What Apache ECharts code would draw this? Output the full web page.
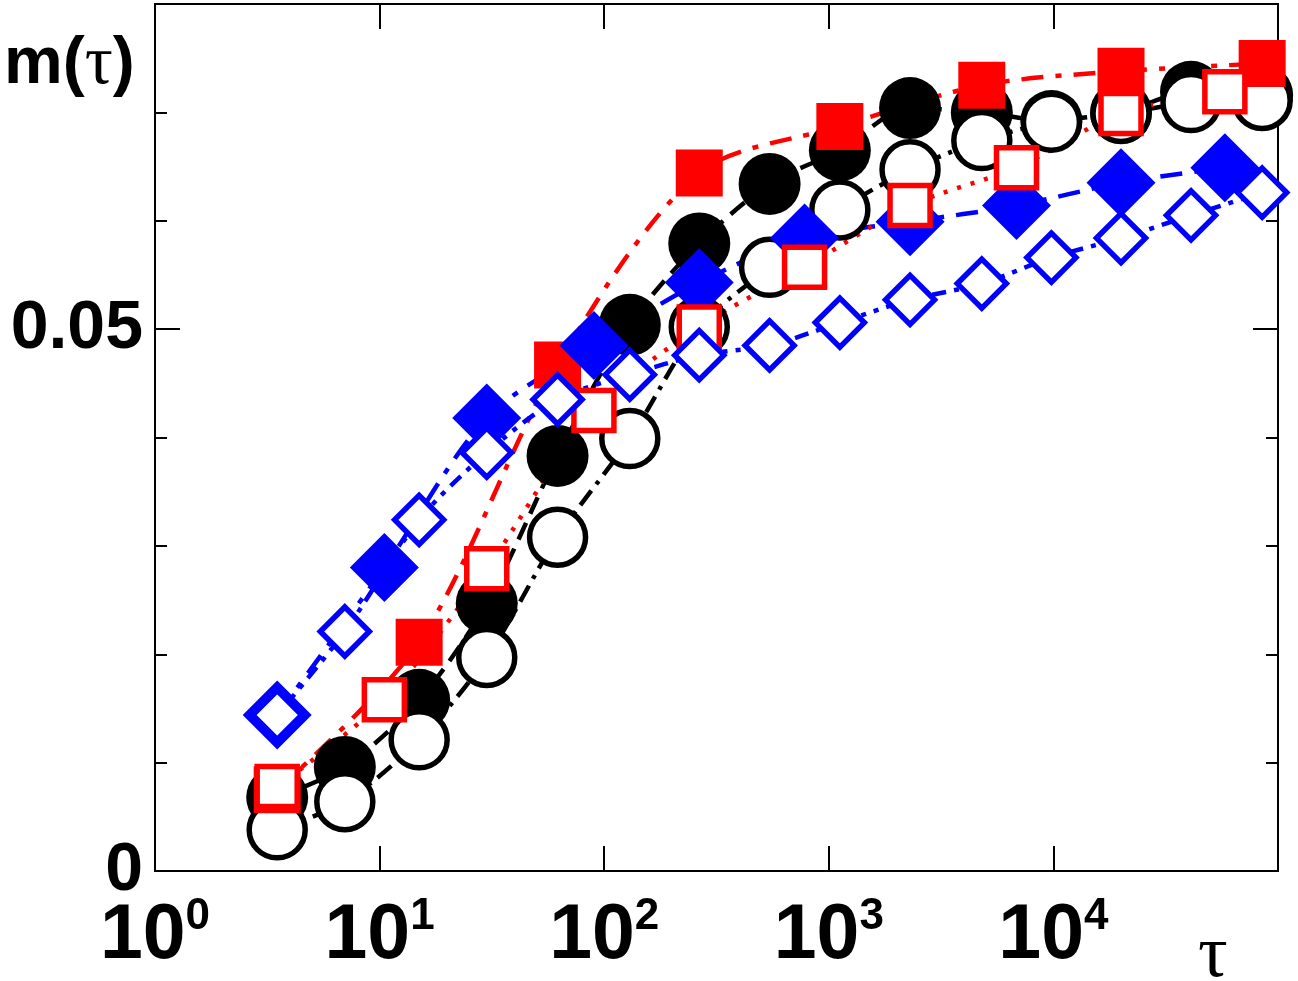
<!DOCTYPE html>
<html>
<head>
<meta charset="utf-8">
<script src="https://cdn.jsdelivr.net/npm/echarts@6/dist/echarts.min.js"></script>
<style>
  html, body { margin: 0; padding: 0; background: #fff; }
  #main { width: 1298px; height: 981px; }
</style>
</head>
<body>
<div id="main"></div>
<script>
// tau values
const tauA = [3.5, 7, 15, 30, 62, 130, 265, 545, 1120, 2300, 4800, 9800, 20000, 41000, 85000];
const tauB = [3.5, 10.5, 30, 90, 265, 780, 2300, 6850, 20000, 58000];
const tauC = [3.5, 15, 62, 265, 1120, 4800, 20000, 85000];

// m(tau) for each curve
const blackFilled = [0.0068, 0.0096, 0.0158, 0.0247, 0.0383, 0.0504, 0.0579, 0.0634, 0.0665, 0.0704, 0.0700, 0.0692, 0.0700, 0.0719, 0.0716];
const blackOpen   = [0.0038, 0.0064, 0.0121, 0.0197, 0.0308, 0.0399, 0.0502, 0.0557, 0.0610, 0.0647, 0.0674, 0.0691, 0.0699, 0.0709, 0.0711];
const redFilled   = [0.0075, 0.0211, 0.0467, 0.0644, 0.0687, 0.0725, 0.0738, 0.0745];
const redOpen     = [0.0078, 0.0158, 0.0279, 0.0425, 0.0502, 0.0557, 0.0614, 0.0649, 0.0699, 0.0719];
const blueFilled  = [0.0144, 0.0280, 0.0418, 0.0485, 0.0543, 0.0584, 0.0599, 0.0614, 0.0635, 0.0649];
const blueOpen    = [0.0144, 0.0221, 0.0324, 0.0386, 0.0435, 0.0458, 0.0476, 0.0485, 0.0506, 0.0527, 0.0542, 0.0566, 0.0584, 0.0605, 0.0626];

const yLabels = [0, 0.05];
const yMinor = [0.01, 0.02, 0.03, 0.04, 0.06, 0.07];

const FONT = 'Liberation Sans, Arial, Helvetica, sans-serif';
const SERIF = 'Liberation Serif, DejaVu Serif, serif';

function pairs(xs, ys) {
    return xs.map((x, i) => [x, ys[i]]);
}

function makeSeries(name, xs, ys, opt) {
    return {
        name: name,
        type: 'line',
        data: pairs(xs, ys),
        smooth: 0.3,
        clip: false,
        symbol: opt.symbol,
        symbolSize: opt.size,
        lineStyle: { color: opt.color, width: 4.5, type: opt.dash },
        itemStyle: opt.open
            ? { color: '#fff', borderColor: opt.color, borderWidth: 5.5 }
            : { color: opt.color, borderWidth: 0 },
        emphasis: { disabled: true }
    };
}

const chart = echarts.init(document.getElementById('main'));

// y axes: labels + major tick, minor ticks, and the same on the right side
function yAxisDef(pos, ticks, len, withLabels) {
    return {
        type: 'value',
        position: pos,
        min: 0,
        max: 0.08,
        axisLine: { show: false, onZero: false },
        splitLine: { show: false },
        axisTick: { show: true, inside: true, length: len, customValues: ticks, lineStyle: { color: '#000', width: 2 } },
        axisLabel: withLabels ? {
            show: true, customValues: yLabels, margin: 12,
            formatter: v => (v === 0 ? '0' : '0.05'),
            color: '#000', fontSize: 68, fontWeight: 'bold', fontFamily: FONT
        } : { show: false }
    };
}

function xAxisDef(pos, withLabels) {
    return {
        type: 'log',
        logBase: 10,
        position: pos,
        min: 1,
        max: 100000,
        axisLine: { show: false, onZero: false },
        splitLine: { show: false },
        minorTick: { show: false },
        axisTick: { show: true, inside: true, length: 25, lineStyle: { color: '#000', width: 2 } },
        axisLabel: withLabels ? {
            show: true, margin: 24, showMaxLabel: false,
            formatter: v => (v >= 100000 ? '' : '{b|10}{s|' + Math.round(Math.log10(v)) + '}'),
            rich: {
                b: { fontSize: 77, fontWeight: 'bold', fontFamily: FONT, color: '#000', lineHeight: 84 },
                s: { fontSize: 44, fontWeight: 'bold', fontFamily: FONT, color: '#000', lineHeight: 32, verticalAlign: 'top' }
            }
        } : { show: false }
    };
}

chart.setOption({
    animation: false,
    backgroundColor: '#fff',
    grid: { left: 155, top: 4, width: 1123, height: 867, show: true, borderColor: '#000', borderWidth: 2, backgroundColor: 'transparent' },
    xAxis: [xAxisDef('bottom', true), xAxisDef('top', false)],
    yAxis: [
        yAxisDef('left', [0.05], 25, true),
        yAxisDef('left', yMinor, 12, false),
        yAxisDef('right', [0.05], 25, false),
        yAxisDef('right', yMinor, 12, false)
    ],
    graphic: [
        {
            type: 'text', left: 4, top: 30,
            style: {
                text: '{a|m(}{t|τ}{a|)}',
                rich: {
                    a: { fontSize: 66, fontWeight: 'bold', fontFamily: FONT, fill: '#000' },
                    t: { fontSize: 70, fontFamily: SERIF, fill: '#000' }
                }
            }
        },
        {
            type: 'text', left: 1198, top: 920,
            style: { text: 'τ', fontSize: 74, fontFamily: SERIF, fill: '#000' }
        }
    ],
    series: [
        makeSeries('black filled', tauA, blackFilled, { symbol: 'circle', size: 62, color: '#000', dash: [18, 10] }),
        makeSeries('black open', tauA, blackOpen, { symbol: 'circle', size: 56, color: '#000', open: true, dash: [18, 8, 4, 8] }),
        makeSeries('red filled', tauC, redFilled, { symbol: 'rect', size: 47, color: '#ff0000', dash: [22, 12, 6, 12] }),
        makeSeries('blue filled', tauB, blueFilled, { symbol: 'diamond', size: 69, color: '#0000ff', dash: [22, 12, 6, 12] }),
        makeSeries('red open', tauB, redOpen, { symbol: 'rect', size: 40, color: '#ff0000', open: true, dash: [4, 10] }),
        makeSeries('blue open', tauA, blueOpen, { symbol: 'diamond', size: 49, color: '#0000ff', open: true, dash: [14, 8, 5, 8, 5, 8] })
    ]
});
</script>
</body>
</html>
